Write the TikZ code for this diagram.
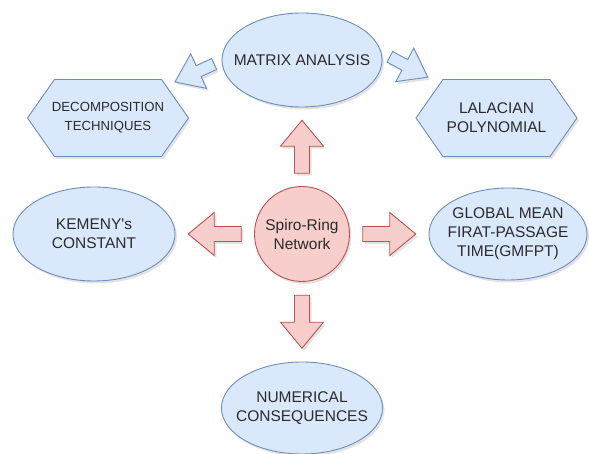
\documentclass[tikz,border=0pt]{standalone}
\usepackage{fontspec}
\setmainfont{Liberation Sans}
\usetikzlibrary{shapes.geometric,shapes.symbols,shadows,calc}
\definecolor{bluefill}{HTML}{DAE8FC}
\definecolor{blueline}{HTML}{6C8EBF}
\definecolor{redfill}{HTML}{F8CECC}
\definecolor{redline}{HTML}{B85450}
\definecolor{txtgray}{HTML}{2B2B2B}

\begin{document}
\begin{tikzpicture}[line cap=round,line join=round,x=1pt,y=1pt,
	shade/.style={drop shadow={opacity=0.22,shadow xshift=2pt,shadow yshift=-2.5pt}},
	blueell/.style={ellipse,draw=blueline,fill=bluefill,line width=0.9pt,inner sep=0pt,shade},
	bluehex/.style={signal,signal to=west and east,signal pointer angle=110,draw=blueline,fill=bluefill,line width=0.9pt,inner sep=0pt,minimum width=161pt,minimum height=77pt,shade},
	hubring/.style={circle,draw=redline,fill=redfill,line width=0.9pt,inner sep=0pt,minimum size=95pt,shade},
	txt/.style={align=center,text=txtgray,font=\fontsize{15.5}{19}\selectfont},
	smalltxt/.style={align=center,text=txtgray,font=\fontsize{13.2}{19}\selectfont},
	redarrow/.style={draw=redline,fill=redfill,line width=0.9pt,line join=miter,shade},
	bluearrow/.style={draw=blueline,fill=bluefill,line width=0.9pt,line join=miter,shade}]
				\useasboundingbox (0,0) rectangle (589,454);
				\node[hubring,label={[txt]center:{Spiro-Ring\\Network}}] (hub) at (302,220) {};
				\node[blueell,minimum width=160pt,minimum height=94pt,label={[txt]center:MATRIX ANALYSIS}] (matrix) at (302,394) {};
				\node[blueell,minimum width=162pt,minimum height=94pt,label={[txt]center:{KEMENY\textquotesingle s\\CONSTANT}}] (kemeny) at (94,220) {};
				\node[blueell,minimum width=158pt,minimum height=92pt,label={[txt]center:{GLOBAL MEAN\\FIRAT-PASSAGE\\TIME(GMFPT)}}] (gmfpt) at (508,220) {};
				\node[blueell,minimum width=161pt,minimum height=92pt,label={[txt]center:{NUMERICAL\\CONSEQUENCES}}] (numer) at (302,46) {};
				\node[bluehex,label={[smalltxt]center:{DECOMPOSITION\\TECHNIQUES}}] (decomp) at (108,336) {};
				\node[bluehex,label={[txt]center:{LALACIAN\\POLYNOMIAL}}] (lalacian) at (496.5,336) {};
				\coordinate (toup) at ($(hub.north)!0.5!(matrix.south)$);
				\coordinate (toleft) at ($(hub.west)!0.5!(kemeny.east)$);
				\coordinate (toright) at ($(hub.east)!0.5!(gmfpt.west)$);
				\coordinate (todown) at ($(hub.south)!0.5!(numer.north)$);
				\coordinate (todecomp) at ($(matrix.west)+(-27,-13)$);
				\coordinate (tolalacian) at ($(matrix.east)+(26.3,-7)$);
				\foreach \a/\r in {toup/90,toleft/180,toright/0,todown/-90}
					\draw[redarrow,shift={(\a)},rotate=\r] (-26.5,-7.5) -- (0.5,-7.5) -- (0.5,-21.5) -- (26.5,0) -- (0.5,21.5) -- (0.5,7.5) -- (-26.5,7.5) -- cycle;
				\foreach \a/\r in {todecomp/204.6,tolalacian/-28.2}
					\draw[bluearrow,shift={(\a)},rotate=\r] (-21.5,-6) -- (-4.5,-6) -- (-4.5,-19) -- (21.5,0) -- (-4.5,19) -- (-4.5,6) -- (-21.5,6) -- cycle;
\end{tikzpicture}
\end{document}
